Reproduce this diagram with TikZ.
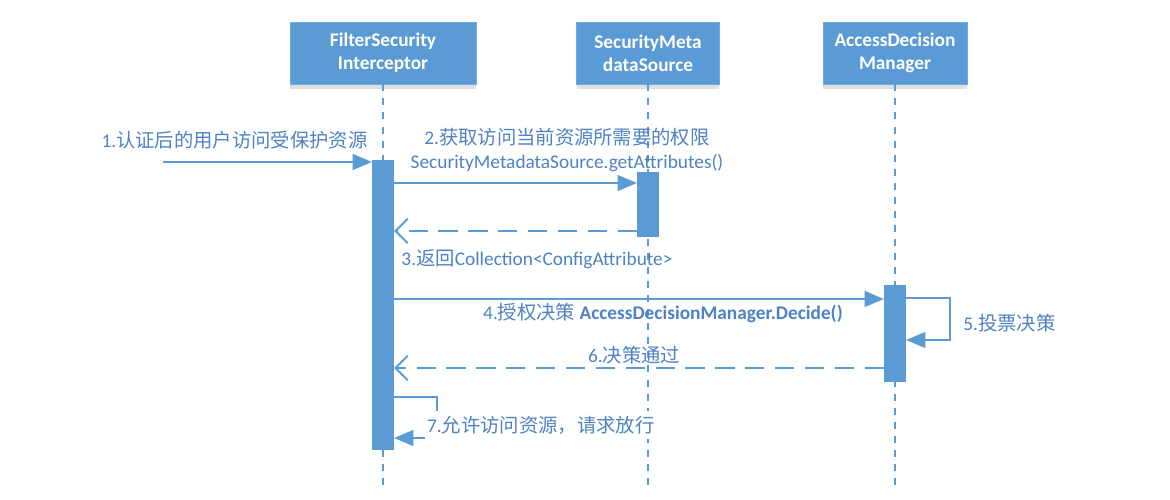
\documentclass[tikz,border=0pt]{standalone}
\usepackage{fontspec}
\setmainfont{Carlito}
\newfontfamily\cjk{Noto Sans CJK SC}
\usetikzlibrary{arrows.meta,shadows}
\definecolor{boxblue}{HTML}{5B9BD5}
\definecolor{txtblue}{HTML}{4F82C4}
\newcommand{\zh}[1]{{\cjk #1}}
\tikzset{
  head/.style={draw=boxblue!85!white, fill=boxblue, text=white, align=center,
    font=\fontsize{11}{13}\selectfont\bfseries, minimum height=1.24cm, inner sep=0,
    drop shadow={shadow xshift=0pt, shadow yshift=-3pt, opacity=0.25, fill=gray}},
  bar/.style={fill=boxblue, minimum width=0.43cm, inner sep=0},
  lifeline/.style={draw=boxblue, line width=0.9pt, dash pattern=on 4pt off 4pt},
  msg/.style={draw=boxblue, line width=1.1pt, -{Triangle[length=11pt,width=9pt]}},
  reply/.style={draw=boxblue, line width=1.1pt, dash pattern=on 11pt off 6pt,
    -{Straight Barb[length=7pt,width=14pt]}},
  lbl/.style={text=txtblue, inner sep=0, font=\fontsize{11}{13.6}\selectfont}
}
\begin{document}
\begin{tikzpicture}[x=0.02cm, y=-0.02cm]
\useasboundingbox[fill=white] (0,0) rectangle (1170,500);

% lifeline heads
\node[head, minimum width=3.72cm] (fsi) at (383,53) {FilterSecurity\\Interceptor};
\node[head, minimum width=2.86cm] (smds) at (648,53) {SecurityMeta\\dataSource};
\node[head, minimum width=2.88cm] (adm) at (895,53) {AccessDecision\\Manager};

% lifelines
\draw[lifeline] (fsi.south) -- (fsi.south |- 0,490);
\draw[lifeline] (smds.south) -- (smds.south |- 0,490);
\draw[lifeline] (adm.south) -- (adm.south |- 0,490);

% activation bars
\node[bar, minimum height=5.8cm] (b1) at (fsi.south |- 0,305) {};
\node[bar, minimum height=1.3cm] (b2) at (smds.south |- 0,204.5) {};
\node[bar, minimum height=1.94cm] (b3) at (adm.south |- 0,333.5) {};

% 1
\coordinate (user) at (163,162);
\draw[msg] (user) -- (b1.west |- user);
\node[lbl] (l1) at (234.5,140) {1.\zh{认证后的用户访问受保护资源}};

% 2
\draw[msg] (b1.east |- 0,183) -- (b2.west |- 0,183);
\node[lbl, align=center] (l2) at (567,150) {2.\zh{获取访问当前资源所需要的权限}\\SecurityMetadataSource.getAttributes()};

% 3
\draw[reply] (b2.west |- 0,231) -- (b1.east |- 0,231);
\node[lbl] (l3) at (537,259) {3.\zh{返回}Collection<ConfigAttribute>};

% 4
\draw[msg] (b1.east |- 0,299) -- (b3.west |- 0,299);
\node[lbl] (l4) at (663,313) {4.\zh{授权决策} \textbf{AccessDecisionManager.Decide()}};

% 5
\draw[msg] (b3.east |- 0,298) -| (950,340) -- (b3.east |- 0,340);
\node[lbl, anchor=west] (l5) at (963,323) {5.\zh{投票决策}};

% 6
\draw[reply] (b3.west |- 0,368) -- (b1.east |- 0,368);
\node[lbl] (l6) at (634,355) {6.\zh{决策通过}};

% 7
\draw[msg] (b1.east |- 0,397) -| (437,438) -- (b1.east |- 0,438);
\node[lbl, anchor=west, fill=white, inner xsep=1pt, inner ysep=2.5pt] (l7) at (425,425) {7.\zh{允许访问资源，请求放行}};
\end{tikzpicture}
\end{document}
